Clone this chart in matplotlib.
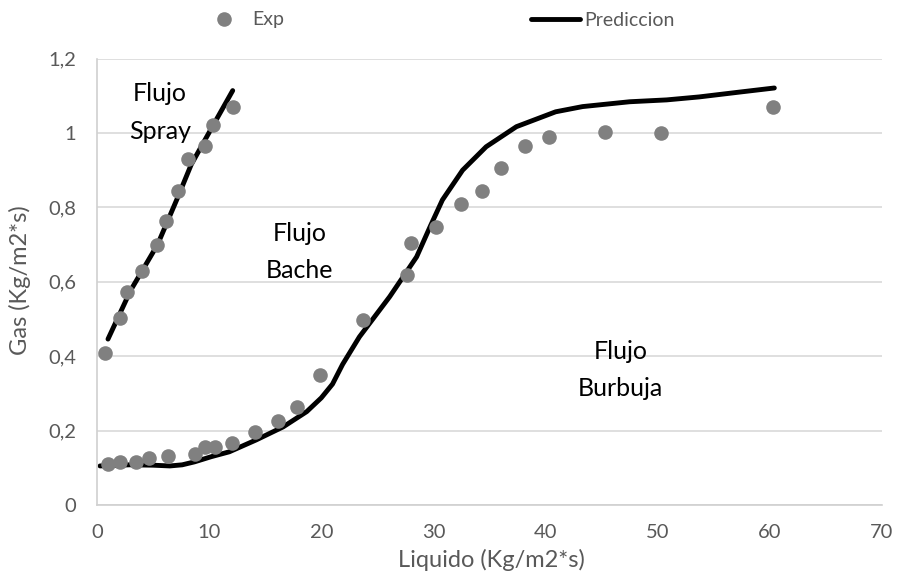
import matplotlib
matplotlib.use("Agg")
import matplotlib.pyplot as plt
from matplotlib.ticker import FuncFormatter

# Experimental points
exp_x = [0.7, 2.05, 2.67, 4.0, 5.34, 6.14, 7.2, 8.1, 9.6, 10.3, 12.1,
         0.95, 2.05, 3.5, 4.6, 6.3, 8.7, 9.6, 10.5, 12.0, 14.1, 16.1, 17.8,
         19.9, 23.7, 27.6, 28.0, 30.2, 32.5, 34.3, 36.0, 38.2, 40.3, 45.3, 50.3, 60.3]
exp_y = [0.409, 0.503, 0.573, 0.629, 0.699, 0.763, 0.844, 0.930, 0.965, 1.022, 1.070,
         0.110, 0.116, 0.116, 0.126, 0.132, 0.137, 0.157, 0.155, 0.166, 0.197, 0.227, 0.263,
         0.349, 0.497, 0.618, 0.703, 0.748, 0.808, 0.845, 0.905, 0.966, 0.990, 1.003, 0.999, 1.069]

# Prediction curves
spray_x = [0.98, 3.0, 5.4, 7.2, 8.4, 10.4, 12.1]
spray_y = [0.446, 0.577, 0.700, 0.827, 0.915, 1.023, 1.114]

main_x = [0.27, 2.9, 5.0, 6.5, 7.6, 8.7, 10.2, 11.8, 14.2, 16.6, 18.7, 20.0, 21.0, 21.9,
          23.4, 26.1, 28.5, 29.7, 30.8, 32.6, 34.7, 37.4, 40.9, 43.3, 47.5, 50.8, 53.7, 57.3, 60.4]
main_y = [0.105, 0.108, 0.107, 0.105, 0.108, 0.116, 0.130, 0.143, 0.175, 0.210, 0.251, 0.288,
          0.325, 0.378, 0.452, 0.560, 0.667, 0.748, 0.820, 0.900, 0.963, 1.017, 1.057, 1.071,
          1.084, 1.089, 1.097, 1.110, 1.121]

x_ticks = [0, 10, 20, 30, 40, 50, 60, 70]
y_ticks = [0, 0.2, 0.4, 0.6, 0.8, 1.0, 1.2]

plt.rcParams['font.family'] = ['Lato', 'DejaVu Sans']

fig = plt.figure(figsize=(9.03, 5.75), dpi=100)
ax = fig.add_axes([97/903, 70/575, (882-97)/903, (505-58.6)/575])

line_kw = dict(color='black', lw=3.5, solid_capstyle='round', solid_joinstyle='round', zorder=2)
ax.plot(spray_x, spray_y, **line_kw)
ax.plot(main_x, main_y, label='Prediccion', **line_kw)
ax.plot(exp_x, exp_y, 'o', color='#808080', markersize=10.5, markeredgewidth=0,
        label='Exp', zorder=3)

ax.set_xlim(0, 70)
ax.set_ylim(0, 1.2)
ax.set_xticks(x_ticks)
ax.set_yticks(y_ticks)

def fmt(v, pos):
    s = ('%g' % round(v, 2))
    return s.replace('.', ',')
ax.yaxis.set_major_formatter(FuncFormatter(fmt))
ax.xaxis.set_major_formatter(FuncFormatter(lambda v, p: '%d' % v))

ax.grid(axis='y', color='#d9d9d9', lw=1.2)
ax.set_axisbelow(True)
for s in ['top', 'right']:
    ax.spines[s].set_visible(False)
for s in ['left', 'bottom']:
    ax.spines[s].set_color('#d0d0d0')
    ax.spines[s].set_linewidth(1.2)
ax.tick_params(length=0, labelsize=14.5, colors='#595959')
ax.tick_params(axis='y', pad=15)
ax.tick_params(axis='x', pad=14)

ax.set_xlabel('Liquido (Kg/m2*s)', fontsize=17, color='#595959', va='center')
ax.xaxis.set_label_coords(0.503, -0.123)
ax.set_ylabel('Gas (Kg/m2*s)', fontsize=17, color='#595959', va='center')
ax.yaxis.set_label_coords(-0.098, 0.504)

ann_kw = dict(ha='center', va='center', fontsize=18, linespacing=1.75)
ax.text(5.6, 1.055, 'Flujo\nSpray', **ann_kw)
ax.text(18.1, 0.68, 'Flujo\nBache', **ann_kw)
ax.text(46.7, 0.363, 'Flujo\nBurbuja', **ann_kw)

handles, labels = ax.get_legend_handles_labels()
order = [labels.index('Exp'), labels.index('Prediccion')]
leg = fig.legend([handles[i] for i in order], [labels[i] for i in order],
                 loc='center', bbox_to_anchor=(437/903, 1 - 20/575), ncol=2, frameon=False,
                 fontsize=14, columnspacing=12.7, handlelength=2.5, handletextpad=0.2)
for t in leg.get_texts():
    t.set_color('#595959')

fig.savefig('out.png', dpi=100)
